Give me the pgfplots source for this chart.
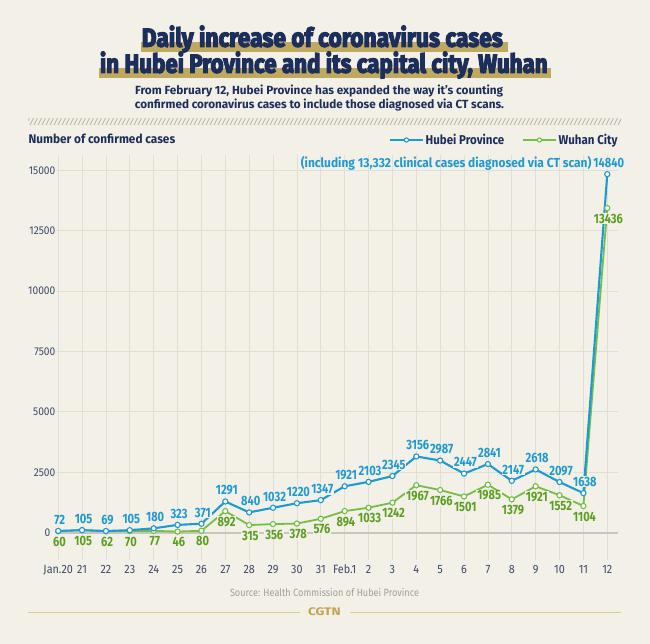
\documentclass[border=0pt]{standalone}
\usepackage{fontspec}
\setmainfont{Fira Sans}[FakeStretch=0.9]
\newfontfamily\titlefont{Fira Sans}[FakeBold=5, BoldFeatures={FakeBold=5}]
\newfontfamily\labfont{Fira Sans}[FakeStretch=0.82]
\usepackage{graphicx}
\usepackage{pgfplots}
\pgfplotsset{compat=1.18}
\usepackage{pgfplotstable}

\definecolor{bg}{HTML}{F3F0E8}
\definecolor{navy}{HTML}{1C2E5B}
\definecolor{goldbar}{HTML}{BFA95E}
\definecolor{hatch}{HTML}{B9B5AA}
\definecolor{gridc}{HTML}{E2DED3}
\definecolor{basec}{HTML}{C8C5BD}
\definecolor{hblue}{HTML}{1C9AD6}
\definecolor{wgreen}{HTML}{72BF44}
\definecolor{wgreenlab}{HTML}{5A9F1F}
\definecolor{ticklab}{HTML}{3E4A6A}
\definecolor{sourcec}{HTML}{A19E98}
\definecolor{cgtn}{HTML}{C3A452}
\definecolor{rulec}{HTML}{DCC890}

\pgfplotstableread{
x y
0 72
1 105
2 69
3 105
4 180
5 323
6 371
7 1291
8 840
9 1032
10 1220
11 1347
12 1921
13 2103
14 2345
15 3156
16 2987
17 2447
18 2841
19 2147
20 2618
21 2097
22 1638
23 14840
}\hubei

\pgfplotstableread{
x y
0 60
1 105
2 62
3 70
4 77
5 46
6 80
7 892
8 315
9 356
10 378
11 576
12 894
13 1033
14 1242
15 1967
16 1766
17 1501
18 1985
19 1379
20 1921
21 1552
22 1104
23 13436
}\wuhan

\begin{document}
\begin{tikzpicture}[x=1pt,y=1pt]
\fill[bg] (0,0) rectangle (650,644);

% title highlight bars
\fill[goldbar] (141,592.3) rectangle (508,602.3);
\fill[goldbar] (99,565.7) rectangle (551,575.7);
\node[anchor=base, inner sep=0pt, text=navy] at (322.3,597.3)
  {\resizebox{361pt}{\height}{\titlefont\bfseries\fontsize{26}{26}\selectfont Daily increase of coronavirus cases}};
\node[anchor=base, inner sep=0pt, text=navy] at (323.8,571.3)
  {\resizebox{447.7pt}{\height}{\titlefont\bfseries\fontsize{26}{26}\selectfont in Hubei Province and its capital city, Wuhan}};

% subtitle
\node[anchor=base, inner sep=0pt, text=navy] at (319.2,549)
  {\resizebox{368pt}{\height}{\bfseries\fontsize{11.8}{12}\selectfont From February 12, Hubei Province has expanded the way it's counting}};
\node[anchor=base, inner sep=0pt, text=navy] at (319.5,535.7)
  {\resizebox{369pt}{\height}{\bfseries\fontsize{11.8}{12}\selectfont confirmed coronavirus cases to include those diagnosed via CT scans.}};

% hatch band
\begin{scope}
\clip (28.3,518.9) rectangle (621,525.7);
\foreach \hx in {26,30,...,622} {\draw[hatch, line width=0.9pt] (\hx,518.9) -- ++(3.4,6.8);}
\end{scope}

% y axis title
\node[anchor=base west, inner sep=0pt, text=navy] at (28.3,500)
  {\resizebox{146.7pt}{\height}{\bfseries\fontsize{12.5}{13}\selectfont Number of confirmed cases}};

\begin{axis}[
  at={(57pt,84pt)}, anchor=south west, scale only axis,
  width=561pt, height=405pt,
  xmin=-0.05, xmax=23.45, ymin=-1130, ymax=15633,
  axis line style={draw=none},
  major tick length=0pt,
  xtick={0,...,23},
  xticklabels={Jan.20,21,22,23,24,25,26,27,28,29,30,31,Feb.1,2,3,4,5,6,7,8,9,10,11,12},
  ytick={2500,5000,7500,10000,12500,15000},
  extra y ticks={0},
  extra y tick style={major grid style={color=basec, line width=1.7pt}, yticklabel style={xshift=-5pt}},
  xmajorgrids, ymajorgrids,
  major grid style={color=gridc, line width=0.8pt},
  scaled y ticks=false,
  /pgf/number format/1000 sep={},
  /pgf/number format/assume math mode=true,
  xticklabel style={font=\fontsize{12}{12}\selectfont, text=ticklab, anchor=base, inner sep=0pt, yshift=-13.3pt},
  yticklabel style={font=\fontsize{11.3}{12}\selectfont, text=ticklab, anchor=east, inner sep=0pt, xshift=-1.5pt},
  legend columns=2,
  reverse legend,
  legend style={at={(1.0084,1.037)}, anchor=east, draw=none, fill=none,
    font=\bfseries\fontsize{12.8}{13}\selectfont, text=navy,
    /tikz/every even column/.append style={column sep=16pt}},
  legend image code/.code={\draw[mark repeat=2, mark phase=2, #1, line width=1.5pt, mark size=2.1pt] plot coordinates {(0pt,0pt) (16.5pt,0pt) (33pt,0pt)};},
  clip=false,
]
\addplot[wgreen, line width=1.8pt, mark=*, mark size=2.6pt,
  mark options={fill=white, draw=wgreen, line width=1.1pt},
  nodes near coords, point meta=explicit symbolic,
  every node near coord/.style={font=\labfont\bfseries\fontsize{13.5}{13.5}\selectfont, fill=bg, inner sep=0.8pt, anchor=center, xshift=1.2pt, yshift=-10.5pt, text=wgreenlab}]
  table[x=x, y=y, meta=y] {\wuhan};
\addlegendentry{Wuhan City}
\addplot[hblue, line width=2.1pt, mark=*, mark size=2.6pt,
  mark options={fill=white, draw=hblue, line width=1.1pt},
  nodes near coords, point meta=explicit symbolic,
  every node near coord/.style={font=\labfont\bfseries\fontsize{13.5}{13.5}\selectfont, fill=bg, inner sep=0.8pt, anchor=center, xshift=1.5pt, yshift=11.2pt, text=hblue}]
  table[x=x, y=y, meta=y] {\hubei};
\addlegendentry{Hubei Province}
\end{axis}

% annotation
\node[anchor=base east, inner sep=0pt, text=hblue] at (591.7,476.5)
  {\resizebox{290.7pt}{\height}{\labfont\bfseries\fontsize{13}{13}\selectfont (including 13,332 clinical cases diagnosed via CT scan)}};

% source and footer
\node[anchor=base, inner sep=0pt, text=sourcec] at (324.5,47.3)
  {\resizebox{189pt}{\height}{\fontsize{10.5}{11}\selectfont Source: Health Commission of Hubei Province}};
\draw[rulec, line width=1pt] (28.3,31.7) -- (300,31.7);
\draw[rulec, line width=1pt] (350,31.7) -- (621,31.7);
\node[anchor=base, inner sep=0pt, text=cgtn] at (324.4,28)
  {\resizebox{32.7pt}{\height}{\bfseries\fontsize{11}{11}\selectfont CGTN}};

\pgfresetboundingbox
\useasboundingbox (0,0) rectangle (650,644);
\end{tikzpicture}
\end{document}
